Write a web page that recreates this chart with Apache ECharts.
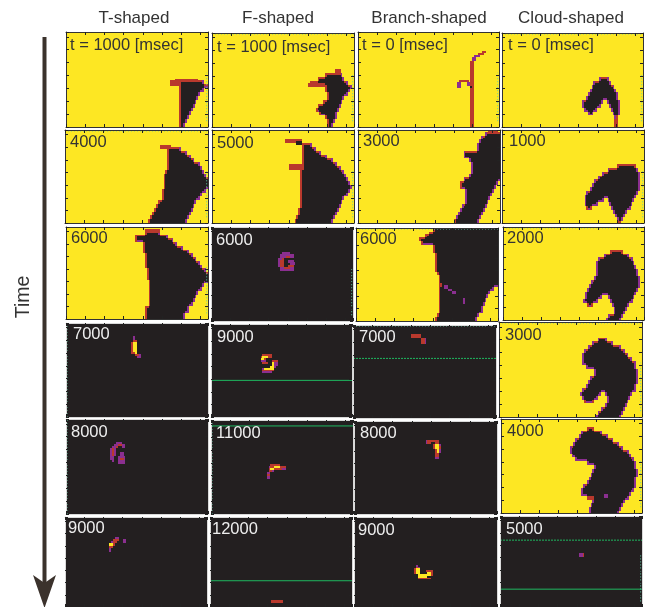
<!DOCTYPE html>
<html>
<head>
<meta charset="utf-8">
<style>
  html, body { margin: 0; padding: 0; background: #fff; overflow: hidden; }
  #chart { width: 657px; height: 607px; }
</style>
<script src="https://cdn.jsdelivr.net/npm/echarts@6/dist/echarts.min.js"></script>
</head>
<body>
<div id="chart"></div>
<script>
// levels of the map
const K = 0, P = 1, R = 2, Y = 3
const levelColors = ['#231f20', '#8b2f90', '#b9392d', '#fde723']

const columnTitles = ['T-shaped', 'F-shaped', 'Branch-shaped', 'Cloud-shaped']
const tTimes = ['t = 1000 [msec]', '4000', '6000', '7000', '8000', '9000']
const fTimes = ['t = 1000 [msec]', '5000', '6000', '9000', '11000', '12000']
const bTimes = ['t = 0 [msec]', '3000', '6000', '7000', '8000', '9000']
const cTimes = ['t = 0 [msec]', '1000', '2000', '3000', '4000', '5000']

// body rows: [row, firstCol, lastCol, leftEdge, rightEdge], each two cells high
const t1000Rows = [[25,59,71],[27,59,73],[29,59,71],[31,59,69],[33,59,68],[35,59,67],[37,59,66],[39,59,65],[41,59,64],[43,59,63],[45,59,62],[47,59,61]]
const t4000Rows = [[9,53,59],[11,53,62],[13,53,64],[15,53,66],[17,53,69],[19,53,70],[21,52,71],[23,51,72],[25,51,73],[27,51,73],[29,51,73],[31,50,72],[33,50,70],[35,50,69],[37,48,67],[39,47,66],[41,46,65],[43,45,64],[45,44,63],[47,43,62]]
const t6000Rows = [[2,41,48],[4,36,52],[6,36,55],[8,40,57],[10,40,60],[12,40,63],[14,41,65],[16,41,67],[18,41,69],[20,41,70],[22,42,72],[24,42,73],[26,42,73],[28,43,73],[30,43,71],[32,43,70],[34,43,68],[36,43,67],[38,43,66],[40,43,65],[42,41,63],[44,41,63],[46,41,61],[48,41,61]]
const f1000Rows = [[21,59,67],[23,55,68],[25,51,70],[27,59,72],[29,59,71],[31,60,70],[33,60,68],[35,58,67],[37,55,66],[39,54,65],[41,56,64],[43,59,64],[45,60,63],[47,60,62]]
const f5000Rows = [[7,47,51],[9,47,53],[11,47,56],[13,47,59],[15,47,62],[17,47,64],[19,47,66],[21,46,68],[23,46,69],[25,46,70],[27,46,71],[29,46,72],[31,46,71],[33,46,70],[35,46,68],[37,46,67],[39,46,66],[41,45,65],[43,45,64],[45,44,63],[47,43,62]]
const b3000Rows = [[1,66,73],[3,64,73],[5,63,73],[7,62,73],[9,62,73],[11,55,73],[13,55,73],[15,58,73],[17,59,73],[19,59,73],[21,59,73],[23,58,73],[25,55,73],[27,53,72,R,P],[29,53,71,R,P],[31,56,70],[33,56,69],[35,56,68],[37,56,67],[39,54,66],[41,53,65],[43,52,64],[45,51,63],[47,50,62,R,P]]
const b6000Rows = [[0,40,73],[2,38,73],[3,36,73],[5,33,73],[7,34,73],[9,40,73],[11,40,73],[13,41,73],[15,41,73],[17,41,73],[19,41,73],[21,41,73],[23,42,73],[25,43,73],[27,43,73],[29,43,73],[31,43,71],[33,43,69],[35,43,68],[37,43,67],[39,43,66],[41,43,65],[43,43,65],[45,42,63],[47,41,62]]
const c0Rows = [[23,51,55],[25,48,56],[27,47,58],[29,46,59],[31,45,60],[33,44,60],[35,42,52],[35,55,61],[37,42,51],[37,56,61],[39,43,49],[39,57,61],[41,45,47],[41,58,61],[43,59,60,P,R],[45,59,60,R,R],[47,59,60,R,R]]
const c1000Rows = [[18,60,69,R,R],[20,55,70],[22,52,71],[24,50,71],[26,48,71],[28,47,71],[30,46,71],[32,44,70],[34,43,69],[36,43,52],[36,55,68],[38,43,49],[38,56,67],[40,44,46,R,R],[40,57,66],[42,58,64],[44,59,63],[46,60,62],[48,60,61,R,R]]
const c2000Rows = [[12,56,62,R,R],[14,53,65],[16,50,67],[18,49,68],[20,49,69],[22,49,70],[24,49,70],[26,48,71],[28,46,71],[30,45,71],[32,44,70],[34,43,69],[36,43,51],[36,55,68],[38,42,49],[38,56,67],[40,44,46,R,R],[40,57,65],[42,58,64],[44,58,63],[46,55,62],[48,54,61]]
const c3000Rows = [[8,51,55],[10,48,58],[12,46,62],[14,44,64],[16,43,66],[18,43,68],[20,43,70],[22,45,70],[24,49,71],[26,49,71],[28,47,71],[30,46,71],[32,45,70],[34,43,70],[36,42,52],[36,55,68],[38,43,50],[38,56,67],[40,44,48,R,R],[40,56,66],[42,55,65],[44,53,64],[46,51,63],[48,50,62]]
const c4000Rows = [[4,45,48,R,R],[6,42,52],[8,41,55],[10,39,58],[12,38,61],[14,36,63],[16,36,66],[18,37,67],[20,39,69],[22,45,70],[24,49,70],[26,48,71],[28,47,71],[30,46,70],[32,45,70],[34,43,70],[36,42,69],[38,42,67],[40,45,66],[42,48,64],[44,47,63],[46,46,62],[48,46,61]]

// single runs of cells: [fromRow, toRow, fromCol, toCol, level]
const t1000Marks = [[24,25,57,69,R],[25,28,54,59,R]]
const t4000Marks = [[8,10,49,55,R]]
const t6000Marks = [[1,3,41,49,R]]
const f1000Marks = [[19,21,64,67,R],[21,22,59,67,R],[26,28,50,59,R]]
const f5000Marks = [[5,7,38,47,R],[6,8,44,47,K],[18,21,40,47,R]]
const b0Marks = [[10,11,65,67,R],[11,12,63,66,R],[12,13,61,64,P],[13,15,60,62,P],[15,17,59,61,R],[17,49,59,61,R],[25,26,53,58,R],[26,29,52,54,P],[26,28,57,59,P],[28,29,59,60,K]]
const b3000Marks = [[0,1,68,73,R]]
const b6000Marks = [[29,31,43,45,R],[30,32,46,48,P],[32,33,48,50,P],[33,35,50,52,P],[37,40,56,57,P]]
const c4000Marks = [[39,41,54,56,P],[40,42,45,49,R]]
const f6000Marks = [[13,14,37,41,P],[14,16,36,43,P],[15,16,39,41,R],[16,17,35,38,P],[16,17,37,38,R],[17,21,35,36,P],[17,21,36,38,R],[17,19,40,43,P],[18,20,41,44,P],[20,21,40,43,R],[21,23,36,43,P],[21,22,38,41,R]]
const t7000Marks = [[7,9,35,36,P],[9,10,35,37,R],[10,15,34,35,R],[10,15,35,37,Y],[15,16,34,36,R],[15,16,36,37,Y],[16,17,36,38,R],[17,18,37,38,P],[16,18,38,39,P]]
const f9000Marks = [[16,17,27,32,R],[17,18,26,27,R],[17,18,27,30,Y],[17,18,30,32,R],[18,19,26,28,Y],[18,19,28,29,R],[19,20,26,29,P],[19,20,32,35,R],[20,21,27,30,R],[20,22,32,33,Y],[20,22,33,35,P],[22,23,31,33,Y],[22,23,33,34,P],[23,24,27,28,P],[23,24,28,33,Y],[24,25,27,33,R],[25,26,27,32,P]]
const b7000Marks = [[5,7,30,35,R],[7,8,35,37,R],[7,8,37,38,P],[8,10,35,37,R],[8,10,37,38,P]]
const t8000Marks = [[12,13,26,29,P],[13,14,25,30,P],[13,14,27,29,R],[13,14,30,31,P],[14,15,24,26,P],[14,15,26,27,R],[14,15,29,31,P],[15,19,23,26,P],[15,19,24,25,R],[19,21,23,25,P],[21,22,24,25,P],[17,19,28,30,P],[19,20,27,31,P],[20,21,27,28,P],[20,21,28,30,R],[20,21,30,31,P],[21,23,27,31,P]]
const f11000Marks = [[23,24,31,36,R],[24,25,30,31,P],[24,25,31,33,R],[24,25,33,36,Y],[24,25,36,39,R],[25,26,30,31,R],[25,26,31,33,Y],[25,26,33,37,R],[25,26,37,39,P],[26,27,30,32,R],[26,27,32,33,P],[27,28,29,31,P],[28,29,29,31,R],[29,31,29,31,P]]
const b8000Marks = [[10,11,37,44,R],[10,12,37,38,P],[11,12,38,40,R],[11,12,42,44,R],[12,15,41,42,R],[12,15,42,44,Y],[12,13,44,45,P],[13,15,44,45,R],[15,17,42,43,R],[15,17,43,44,Y],[15,17,44,45,P],[17,19,42,44,R],[19,20,42,44,P]]
const t9000Marks = [[11,12,26,28,P],[12,13,25,28,R],[13,14,24,25,P],[13,14,25,27,R],[12,14,30,32,P],[14,16,23,25,Y],[14,16,25,26,R],[16,17,23,25,R],[17,19,23,24,P]]
const f12000Marks = [[45,47,32,38,R]]
const b9000Marks = [[26,27,32,33,P],[27,28,32,33,R],[27,28,33,34,P],[28,31,31,32,R],[28,31,32,34,Y],[29,30,37,41,R],[30,32,38,40,Y],[30,32,40,41,R],[31,33,33,38,Y],[33,34,33,40,R]]
const c5000Marks = [[20,22,41,43,P],[20,22,43,44,R]]

// thin green rows seen in the dark maps: [row, dotted]
const f9000Green = [[29.7, false]]
const f11000Green = [[3.1, false]]
const f12000Green = [[34.7, false]]
const b7000Green = [[17.6, true]]
const c5000Green = [[13, true], [39.4, false]]

const COLS = 74
const ROWS = 49

// left, top, right, bottom of every panel on the page
const boxes = [
  [66,32,208,127],[65,130,208,223],[66,227,208,319],[66,323,208,417],[66,419,208,514],[65,517,207,612],
  [212,33,354,127],[212,130,354,223],[211,227,353,321],[211,324,352,417],[211,420,353,514],[210,517,352,612],
  [358,32,499,127],[358,130,500,223],[356,228,498,321],[353,325,496,418],[354,421,497,514],[354,517,497,612],
  [502,33,643,127],[502,130,644,223],[503,227,644,320],[499,322,642,417],[501,419,642,513],[500,516,642,612]
]
const labelSpots = [
  [70,45],[70,142],[71,238],[73,334],[71,432],[68,528],
  [217,47],[217,143],[216,240],[217,337],[216,433],[212,529],
  [362,45],[363,141],[360,239],[359,337],[360,433],[358,530],
  [508,45],[509,141],[507,238],[505,335],[507,431],[506,529]
]
const titleCenters = [134, 278, 429, 571]
// panels whose edges carry the faint teal dots of the source
const dottedEdges = [
  [0,'right'],[1,'top'],[1,'right'],[2,'right'],[3,'left'],[4,'left'],
  [6,'top'],[6,'right'],[7,'right'],[8,'right'],[10,'left'],
  [12,'right'],[14,'top'],[15,'top'],[18,'top'],[18,'right'],[19,'right'],[20,'top'],[21,'top'],[21,'right'],[22,'right'],[23,'right']
]

// the outline of a body takes the edge levels, the inside stays black
function shape(rows, marks, base, left, right) {
  const runs = [[0, ROWS, 0, COLS, base]]
  const cells = []
  for (let r = 0; r < ROWS; r++) cells.push(new Array(COLS).fill(null))
  ;(rows || []).forEach(function (row) {
    for (let r = row[0]; r < Math.min(row[0] + 2, ROWS); r++) {
      for (let c = row[1]; c <= row[2]; c++) {
        const onLeft = c - row[1] < (row[2] - row[1]) / 2
        const side = onLeft ? row[3] : row[4]
        cells[r][c] = side === undefined ? (onLeft ? left : right) : side
      }
    }
  })
  const isOut = function (r, c) {
    return r >= 0 && r < ROWS && c >= 0 && c < COLS && cells[r][c] === null
  }
  for (let r = 0; r < ROWS; r++) {
    for (let c = 0; c < COLS; c++) {
      if (cells[r][c] === null) continue
      let level = K
      if (isOut(r, c - 1) || isOut(r, c + 1)) level = cells[r][c]
      else if (isOut(r - 1, c)) level = R
      else if (isOut(r + 1, c)) level = P
      const last = runs[runs.length - 1]
      if (last[0] === r && last[3] === c && last[4] === level) last[3] = c + 1
      else runs.push([r, r + 1, c, c + 1, level])
    }
  }
  return runs.concat(marks || [])
}

const panels = [
  { runs: shape(t1000Rows, t1000Marks, Y, R, P) },
  { runs: shape(t4000Rows, t4000Marks, Y, R, P) },
  { runs: shape(t6000Rows, t6000Marks, Y, R, P) },
  { runs: shape(null, t7000Marks, K) },
  { runs: shape(null, t8000Marks, K) },
  { runs: shape(null, t9000Marks, K) },
  { runs: shape(f1000Rows, f1000Marks, Y, R, P) },
  { runs: shape(f5000Rows, f5000Marks, Y, R, P) },
  { runs: shape(null, f6000Marks, K) },
  { runs: shape(null, f9000Marks, K), green: f9000Green },
  { runs: shape(null, f11000Marks, K), green: f11000Green },
  { runs: shape(null, f12000Marks, K), green: f12000Green },
  { runs: shape(null, b0Marks, Y) },
  { runs: shape(b3000Rows, b3000Marks, Y, P, P) },
  { runs: shape(b6000Rows, b6000Marks, Y, R, P) },
  { runs: shape(null, b7000Marks, K), green: b7000Green },
  { runs: shape(null, b8000Marks, K) },
  { runs: shape(null, b9000Marks, K) },
  { runs: shape(c0Rows, null, Y, P, P) },
  { runs: shape(c1000Rows, null, Y, P, P) },
  { runs: shape(c2000Rows, null, Y, P, P) },
  { runs: shape(c3000Rows, null, Y, P, P) },
  { runs: shape(c4000Rows, c4000Marks, Y, P, P) },
  { runs: shape(null, c5000Marks, K), green: c5000Green }
]
const panelLabels = tTimes.concat(fTimes, bTimes, cTimes)

function renderRun(params, api) {
  const a = api.coord([api.value(2), ROWS - api.value(0)])
  const b = api.coord([api.value(3), ROWS - api.value(1)])
  const x = Math.round(a[0])
  const y = Math.round(a[1])
  return {
    type: 'rect',
    shape: { x: x, y: y, width: Math.round(b[0]) - x, height: Math.round(b[1]) - y },
    style: { fill: levelColors[api.value(4)] }
  }
}

const grid = []
const xAxis = []
const yAxis = []
const series = []
const elements = []

function dottedLine(i, points) {
  series.push({
    type: 'line',
    xAxisIndex: i * 2,
    yAxisIndex: i * 2,
    data: points,
    symbol: 'none',
    silent: true,
    lineStyle: { color: '#62cfa8', width: 1, type: [1, 2] },
    z: 3
  })
}

panels.forEach(function (panel, i) {
  const box = boxes[i]
  const dark = panel.runs[0][4] === K
  const lineColor = dark ? '#d9d9d9' : '#333'
  grid.push({ left: box[0], top: box[1], width: box[2] - box[0], height: box[3] - box[1] })
  ;['bottom', 'top'].forEach(function (position) {
    xAxis.push({
      type: 'value', gridIndex: i, position: position, min: 0, max: COLS, interval: 10, z: 5,
      axisLine: { onZero: false, lineStyle: { color: lineColor } },
      axisTick: { inside: true, length: 3, lineStyle: { color: '#222' } },
      axisLabel: { show: false }, splitLine: { show: false }
    })
  })
  ;['left', 'right'].forEach(function (position) {
    yAxis.push({
      type: 'value', gridIndex: i, position: position, min: 0, max: ROWS, interval: 6.65, z: 5,
      axisLine: { onZero: false, lineStyle: { color: lineColor } },
      axisTick: { inside: true, length: 3, lineStyle: { color: '#222' } },
      axisLabel: { show: false }, splitLine: { show: false }
    })
  })
  series.push({
    type: 'custom',
    xAxisIndex: i * 2,
    yAxisIndex: i * 2,
    renderItem: renderRun,
    data: panel.runs,
    silent: true,
    z: 1
  })
  ;(panel.green || []).forEach(function (g) {
    series.push({
      type: 'line',
      xAxisIndex: i * 2,
      yAxisIndex: i * 2,
      data: [[0, ROWS - g[0]], [COLS, ROWS - g[0]]],
      symbol: 'none',
      silent: true,
      lineStyle: { color: '#1fb860', width: 1, type: g[1] ? [2, 1] : 'solid' },
      z: 2
    })
  })
  elements.push({
    type: 'text',
    x: labelSpots[i][0],
    y: labelSpots[i][1],
    z: 10,
    style: {
      text: panelLabels[i],
      fill: dark ? '#eeeeee' : '#333333',
      font: '16.5px "Liberation Sans"',
      verticalAlign: 'middle'
    }
  })
})

dottedEdges.forEach(function (edge) {
  const i = edge[0]
  if (edge[1] === 'top') dottedLine(i, [[0, ROWS - 0.5], [COLS, ROWS - 0.5]])
  if (edge[1] === 'right') dottedLine(i, [[COLS - 0.7, 3], [COLS - 0.7, 28]])
  if (edge[1] === 'left') dottedLine(i, [[0.5, 0], [0.5, ROWS]])
})

columnTitles.forEach(function (title, i) {
  elements.push({
    type: 'text',
    x: titleCenters[i],
    y: 18,
    style: {
      text: title,
      fill: '#333333',
      font: '17px "Liberation Sans"',
      align: 'center',
      verticalAlign: 'middle'
    }
  })
})

elements.push({
  type: 'text',
  x: 24,
  y: 297,
  rotation: Math.PI / 2,
  style: {
    text: 'Time',
    fill: '#333333',
    font: '19.5px "Liberation Sans"',
    align: 'center',
    verticalAlign: 'middle'
  }
})
elements.push({
  type: 'line',
  shape: { x1: 44.5, y1: 37, x2: 44.5, y2: 590 },
  style: { stroke: '#3b322c', lineWidth: 4 }
})
elements.push({
  type: 'polygon',
  shape: { points: [[33, 575], [44.5, 583], [56, 575], [44.5, 608]] },
  style: { fill: '#3b322c' }
})

const chart = echarts.init(document.getElementById('chart'), null, { renderer: 'canvas' })
chart.setOption({
  animation: false,
  backgroundColor: '#fff',
  grid: grid,
  xAxis: xAxis,
  yAxis: yAxis,
  series: series,
  graphic: { elements: elements }
})
</script>
</body>
</html>
